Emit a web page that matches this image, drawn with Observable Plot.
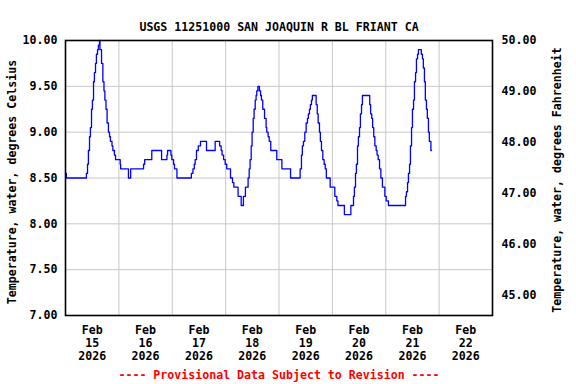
<!DOCTYPE html>
<html><head><meta charset="utf-8">
<script src="https://cdn.jsdelivr.net/npm/d3@7"></script>
<script src="https://cdn.jsdelivr.net/npm/@observablehq/plot@0.6"></script>
<style>body{margin:0;background:#fff}</style>
</head><body><div id="chart"></div>
<script>
const title = "USGS 11251000 SAN JOAQUIN R BL FRIANT CA";
const yLabelLeft = "Temperature, water, degrees Celsius";
const yLabelRight = "Temperature, water, degrees Fahrenheit";
const footer = "---- Provisional Data Subject to Revision ----";
const monthLabel = "Feb";
const yearLabel = "2026";
const dayLabels = ["15", "16", "17", "18", "19", "20", "21", "22"];
const celsiusTicks = [7.0, 7.5, 8.0, 8.5, 9.0, 9.5, 10.0];
const fahrenheitTicks = [45, 46, 47, 48, 49, 50];

// hours since 2026-02-15 00:00 at which the reading changes, and the new reading (deg C)
const hours = [
  0, 0.4, 9.4, 9.9, 10.3, 10.8, 11.2, 11.7, 12.1, 12.6, 13.0, 13.5, 13.9, 14.4, 14.8, 15.3, 15.5,
  16.2, 16.8, 17.3, 17.7, 18.2, 18.7, 19.3, 19.8, 20.2, 20.9, 21.3, 22.0, 22.5, 24.6, 24.8, 28.3, 29.3,
  35.1, 35.6, 38.8, 43.2, 45.6, 45.9, 47.4, 47.8, 48.6, 49.0, 50.1,
  56.6, 57.3, 57.9, 58.3, 58.9, 59.7, 60.7, 63.4, 67.3, 69.3, 70.0, 70.4, 71.1, 71.8, 72.5, 74.2, 75.1, 75.7,
  77.6, 79.0, 80.0, 80.9, 82.1, 82.6, 83.0, 83.5, 83.9, 84.4, 84.8, 85.3, 85.7, 86.0, 86.5,
  87.2, 87.7, 88.1, 88.7, 89.5, 90.2, 90.5, 91.1, 91.6, 92.3, 95.0, 97.3, 101.2,
  105.5, 106.1, 106.5, 107.0, 107.6, 108.2, 108.8, 109.2, 109.7, 110.1, 110.6, 111.0,
  112.7, 113.2, 113.6, 114.2, 114.6, 115.1, 115.7, 116.3, 116.8, 117.3, 119.0, 121.1, 122.0, 122.5,
  125.4, 128.3, 129.5, 129.9, 130.4, 130.8, 131.3, 131.7, 132.2, 132.6, 133.1, 133.5,
  136.8, 137.2, 137.7, 138.1, 138.6, 139.1, 139.7, 140.1, 140.6, 141.2, 141.8, 142.5, 143.6, 144.2, 145.2,
  152.9, 153.3, 153.8, 154.2, 154.7, 155.1, 155.6, 156.0, 156.5, 156.9, 157.4, 157.8, 158.3, 158.7,
  160.0, 160.5, 160.9, 161.4, 161.8, 162.3, 162.7, 163.2, 163.6, 164.3, 164.6
];
const tempC = [
  8.55, 8.5, 8.55, 8.65, 8.8, 8.95, 9.05, 9.25, 9.35, 9.55, 9.65, 9.75, 9.85, 9.9, 9.95, 10.0, 9.9,
  9.75, 9.55, 9.45, 9.35, 9.25, 9.1, 9.0, 8.95, 8.9, 8.85, 8.8, 8.75, 8.7, 8.65, 8.6, 8.5, 8.6,
  8.65, 8.7, 8.8, 8.7, 8.75, 8.8, 8.75, 8.7, 8.65, 8.6, 8.5,
  8.55, 8.6, 8.65, 8.7, 8.8, 8.85, 8.9, 8.8, 8.9, 8.85, 8.8, 8.75, 8.7, 8.65, 8.6, 8.5, 8.45, 8.4,
  8.3, 8.2, 8.3, 8.4, 8.5, 8.6, 8.7, 8.85, 9.0, 9.15, 9.25, 9.35, 9.4, 9.45, 9.5,
  9.45, 9.4, 9.35, 9.25, 9.15, 9.05, 9.0, 8.95, 8.9, 8.8, 8.7, 8.6, 8.5,
  8.6, 8.75, 8.85, 8.9, 9.0, 9.1, 9.15, 9.2, 9.25, 9.3, 9.35, 9.4,
  9.3, 9.2, 9.1, 9.0, 8.9, 8.8, 8.7, 8.65, 8.6, 8.5, 8.4, 8.3, 8.25, 8.2,
  8.1, 8.2, 8.3, 8.4, 8.55, 8.65, 8.85, 8.95, 9.05, 9.2, 9.3, 9.4,
  9.3, 9.2, 9.15, 9.05, 8.95, 8.85, 8.8, 8.75, 8.7, 8.6, 8.5, 8.4, 8.3, 8.25, 8.2,
  8.3, 8.35, 8.45, 8.55, 8.65, 8.85, 9.05, 9.25, 9.35, 9.55, 9.65, 9.8, 9.85, 9.9,
  9.85, 9.8, 9.7, 9.55, 9.35, 9.25, 9.15, 9.0, 8.9, 8.8, 8.8
];

const t0 = Date.UTC(2026, 1, 15);
const HOUR = 3600000, DAY = 86400000;
const data = hours.map((h, i) => ({date: new Date(t0 + h * HOUR), temp: tempC[i]}));
const dayTicks = d3.range(dayLabels.length + 1).map(i => new Date(t0 + i * DAY));
const noonTicks = dayLabels.map((d, i) => new Date(t0 + (i + 0.5) * DAY));
const f2c = f => (f - 32) * 5 / 9;
const c2f = c => c * 9 / 5 + 32;
const labelFor = d => {
  const i = Math.floor((d - t0) / DAY);
  return `${monthLabel}\n${dayLabels[i]}\n${yearLabel}`;
};

const chart = Plot.plot({
  width: 576,
  height: 384,
  marginTop: 40,
  marginBottom: 69,
  marginLeft: 65,
  marginRight: 84,
  style: {fontFamily: "'DejaVu Sans Mono', monospace", fontWeight: "bold", fontSize: "11.6px", background: "#fff", color: "#000"},
  x: {type: "utc", domain: [dayTicks[0], dayTicks[dayTicks.length - 1]]},
  y: {domain: [7, 10]},
  marks: [
    Plot.gridX(dayTicks, {stroke: "#c8c8c8", strokeOpacity: 1}),
    Plot.gridY(celsiusTicks, {stroke: "#c8c8c8", strokeOpacity: 1}),
    Plot.line(data, {x: "date", y: "temp", curve: "step-after", stroke: "#0000ff", strokeWidth: 1.3}),
    Plot.frame({stroke: "#000", strokeWidth: 1.6}),
    Plot.axisY(celsiusTicks, {anchor: "left", tickSize: 0, tickPadding: 8, tickFormat: d => d.toFixed(2), label: null}),
    Plot.axisY(fahrenheitTicks.map(f2c), {anchor: "right", tickSize: 0, tickPadding: 9, tickFormat: c => c2f(c).toFixed(2), label: null}),
    Plot.axisX(noonTicks, {anchor: "bottom", tickSize: 0, tickPadding: 9, tickFormat: labelFor, lineHeight: 1.12, label: null}),
    Plot.text([title], {frameAnchor: "top", dy: -18, text: d => d, fill: "#000"}),
    Plot.text([yLabelLeft], {frameAnchor: "left", textAnchor: "middle", dx: -53, dy: 4, rotate: -90, text: d => d, fill: "#000"}),
    Plot.text([yLabelRight], {frameAnchor: "right", textAnchor: "middle", dx: 65, dy: 2, rotate: -90, text: d => d, fill: "#000"}),
    Plot.text([footer], {frameAnchor: "bottom", dy: 63, text: d => d, fill: "#ff0000"})
  ]
});
document.getElementById("chart").appendChild(chart);
</script>
</body></html>
